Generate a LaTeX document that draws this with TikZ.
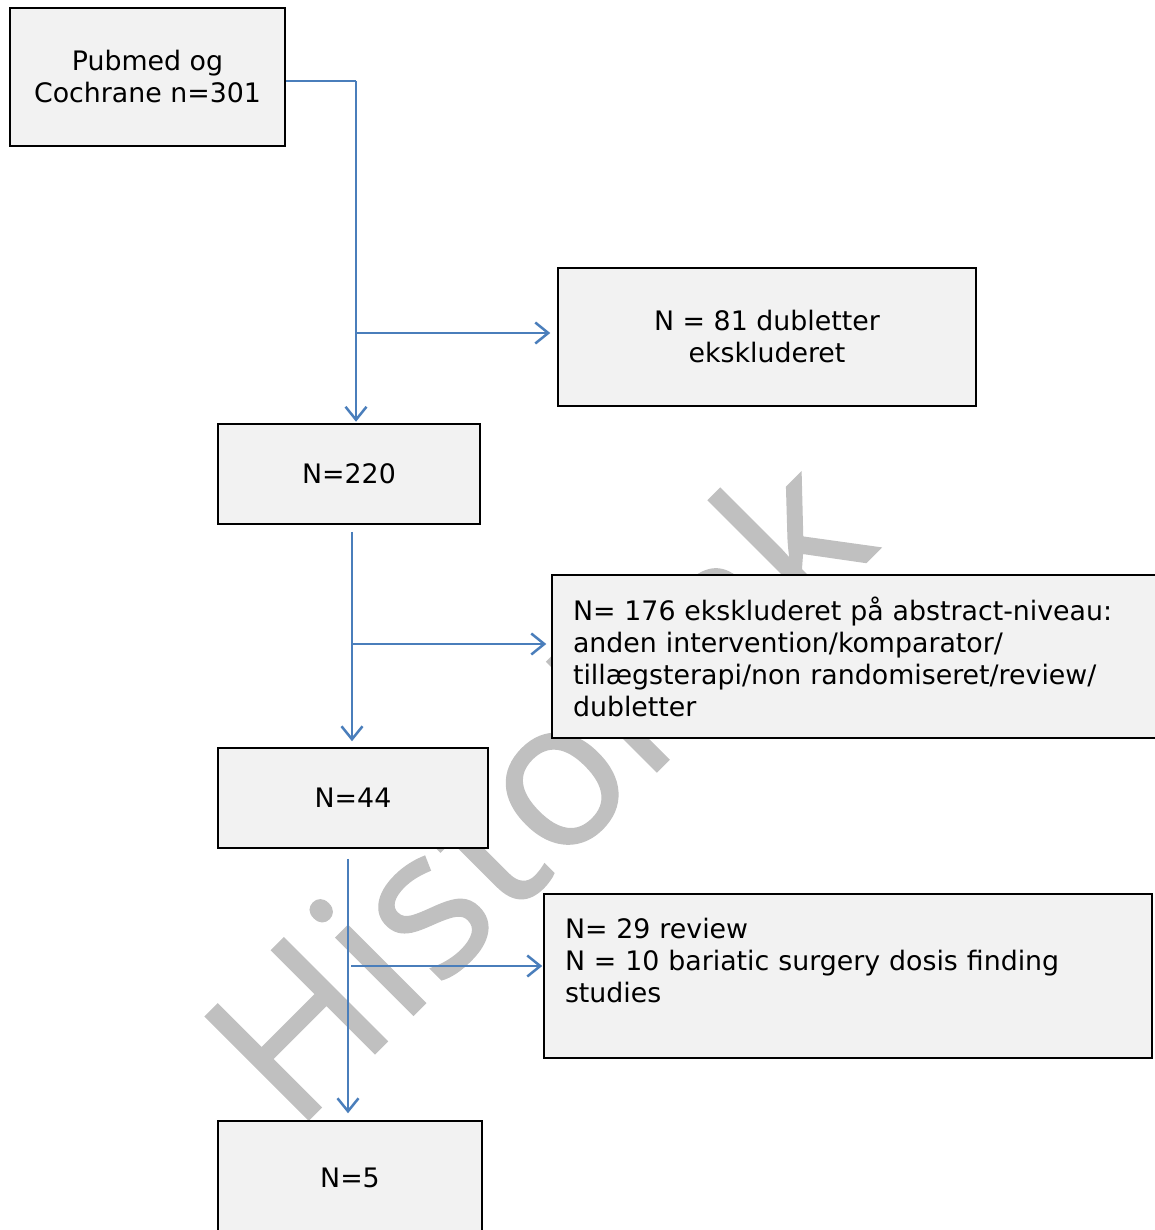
\documentclass[tikz,border=0pt]{standalone}
\usepackage{fontspec}
\setmainfont{DejaVu Sans}
\newfontfamily\wmfont[FakeBold=0.9]{Open Sans}
\usetikzlibrary{arrows.meta}
\definecolor{boxfill}{HTML}{F2F2F2}
\definecolor{arrowblue}{HTML}{4A7EBB}
\definecolor{wmgray}{HTML}{C0C0C0}
\begin{document}
\begin{tikzpicture}[x=1pt,y=-1pt,
  box/.style={draw=black, line width=1.5pt, fill=boxfill, inner sep=0pt,
    font=\fontsize{26.8}{32}\selectfont},
  conn/.style={draw=arrowblue, line width=2.5pt},
  arr/.style={conn, -{Straight Barb[length=13pt,width=21pt]}},
  wmark/.style={font=\wmfont\fontsize{204}{204}\selectfont, text=wmgray, rotate=45, inner sep=0pt}
]
\clip (0,0) rectangle (1155,1230);
\fill[white] (0,0) rectangle (1155,1230);
\node[wmark] (wm) at (534,786) {Histolink};

\node[box, minimum width=275pt, minimum height=138pt, align=center] (b1) at (147.5,77) {Pubmed og\\Cochrane n=301};
\node[box, minimum width=418pt, minimum height=138pt, align=center] (b2) at (767,337) {N = 81 dubletter\\ekskluderet};
\node[box, minimum width=262pt, minimum height=100pt] (b3) at (349,474) {N=220};
\node[box, minimum width=608pt, minimum height=163pt, text width=566pt, align=left] (b4) at (856,656.5)
  {N= 176 ekskluderet på abstract-niveau:\\anden intervention/komparator/\\tillægsterapi/non randomiseret/review/\\dubletter};
\node[box, minimum width=270pt, minimum height=100pt] (b5) at (353,798) {N=44};
\node[box, minimum width=608pt, minimum height=164pt, text width=566pt, align=left] (b6) at (848,976)
  {N= 29 review\\N = 10 bariatic surgery dosis finding\\studies\\\mbox{}};
\node[box, minimum width=264pt, minimum height=114pt] (b7) at (350,1178) {N=5};

% connector 1
\coordinate (j1) at (356,81);
\draw[conn] (b1.east |- j1) -- (j1);
\draw[arr, shorten >=1.5pt] (j1) -- (j1 |- b3.north);
\coordinate (k1) at (356,333);
\draw[arr] (k1) -- ([xshift=-7pt]b2.west |- k1);

% connector 2
\draw[arr, shorten <=7pt, shorten >=6pt] ([xshift=3pt]b3.south) -- ([xshift=3pt]b3.south |- b5.north);
\coordinate (k2) at (352,644);
\draw[arr] (k2) -- ([xshift=-5pt]b4.west |- k2);

% connector 3
\draw[arr, shorten <=10pt, shorten >=7pt] ([xshift=-5pt]b5.south) -- ([xshift=-5pt]b5.south |- b7.north);
\coordinate (k3) at (351,966);
\draw[arr] (k3) -- ([xshift=-1pt]b6.west |- k3);
\end{tikzpicture}
\end{document}
